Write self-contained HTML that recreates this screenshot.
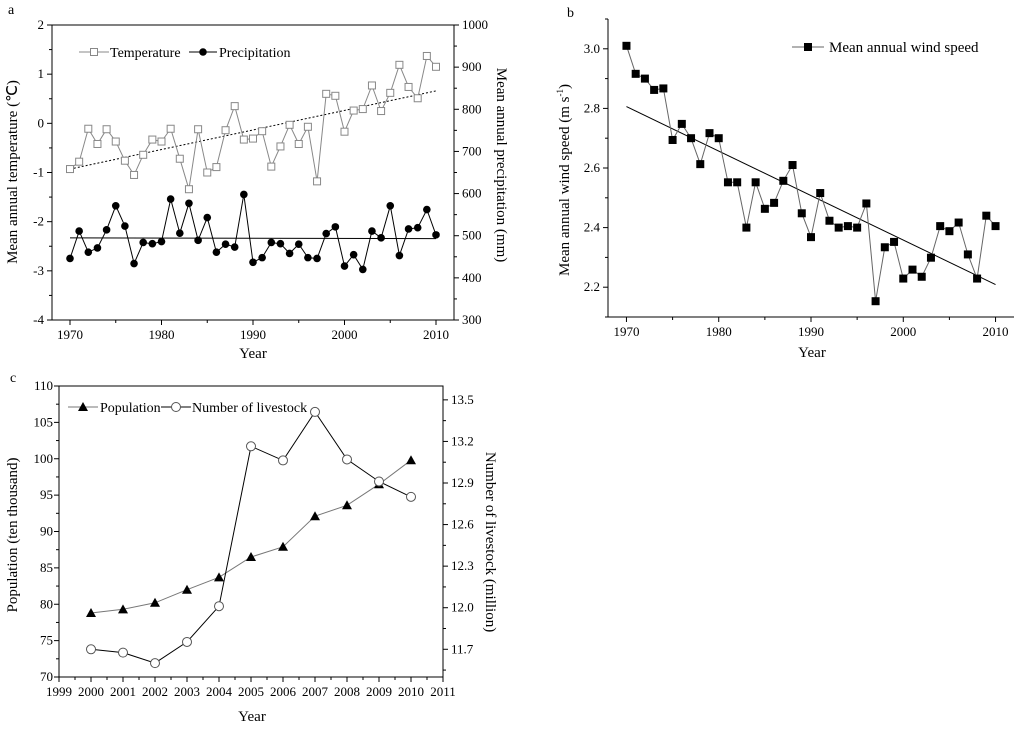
<!DOCTYPE html>
<html><head><meta charset="utf-8"><style>
html,body{margin:0;padding:0;background:#fff}
svg{display:block;font-family:"Liberation Serif",serif}
</style></head><body>
<svg id="svg" width="1024" height="731" viewBox="0 0 1024 731"></svg>
<script>
// Panel a data
const yearsA = [1970,1971,1972,1973,1974,1975,1976,1977,1978,1979,1980,1981,1982,1983,1984,1985,1986,1987,1988,1989,1990,1991,1992,1993,1994,1995,1996,1997,1998,1999,2000,2001,2002,2003,2004,2005,2006,2007,2008,2009,2010];
const tempValues = [-0.93,-0.78,-0.11,-0.42,-0.12,-0.37,-0.76,-1.05,-0.64,-0.33,-0.37,-0.11,-0.72,-1.34,-0.12,-1.0,-0.89,-0.14,0.35,-0.33,-0.31,-0.16,-0.88,-0.47,-0.03,-0.42,-0.07,-1.18,0.60,0.56,-0.17,0.26,0.29,0.77,0.25,0.62,1.19,0.74,0.51,1.37,1.15];
const precipValues = [446,511,461,471,514,571,523,434,484,481,486,587,506,577,489,543,461,480,473,598,437,448,484,481,458,480,448,446,505,521,428,455,420,511,495,571,453,516,519,562,502];
const tempTrend = [-0.93,0.66];
const precipTrend = [495,493];
const tempTicks = [-4,-3,-2,-1,0,1,2];
const precipTicks = [300,400,500,600,700,800,900,1000];
const yearTicksA = [1970,1980,1990,2000,2010];
// Panel b data
const windValues = [3.01,2.916,2.90,2.862,2.867,2.694,2.748,2.70,2.613,2.717,2.70,2.552,2.552,2.40,2.552,2.463,2.483,2.557,2.61,2.448,2.368,2.516,2.423,2.40,2.405,2.40,2.481,2.153,2.334,2.352,2.229,2.259,2.235,2.299,2.405,2.388,2.417,2.31,2.229,2.44,2.405];
const windTrend = [2.806,2.209];
const windTicks = [2.2,2.4,2.6,2.8,3.0];
// Panel c data
const yearsC = [2000,2001,2002,2003,2004,2005,2006,2007,2008,2009,2010];
const popValues = [78.8,79.3,80.2,82.0,83.7,86.5,87.9,92.1,93.6,96.5,99.8];
const livestockValues = [11.70,11.676,11.60,11.753,12.011,13.165,13.063,13.413,13.07,12.911,12.80];
const popTicks = [70,75,80,85,90,95,100,105,110];
const livestockTicks = [11.7,12.0,12.3,12.6,12.9,13.2,13.5];
const yearTicksC = [1999,2000,2001,2002,2003,2004,2005,2006,2007,2008,2009,2010,2011];

const NS="http://www.w3.org/2000/svg";
const svg=document.getElementById('svg');
function el(tag,attrs,parent,text){const e=document.createElementNS(NS,tag);for(const k in attrs)e.setAttribute(k,attrs[k]);if(text!==undefined)e.textContent=text;(parent||svg).appendChild(e);return e;}
function lin(d0,d1,r0,r1){return v=>r0+(v-d0)*(r1-r0)/(d1-d0);}
function poly(xs,ys,sx,sy,stroke,g,dash){const p=xs.map((x,i)=>sx(x).toFixed(1)+','+sy(ys[i]).toFixed(1)).join(' ');const a={points:p,fill:'none',stroke:stroke,'stroke-width':1};if(dash)a['stroke-dasharray']=dash;return el('polyline',a,g);}

// ===== Panel a =====
const gA=el('g',{});


const axA={l:52,r:454,t:25,b:320};
const xA=lin(1970,2010,70,436), yT=lin(-4,2,320,25), yP=lin(300,1000,320,25);
el('rect',{x:axA.l,y:axA.t,width:axA.r-axA.l,height:axA.b-axA.t,fill:'none',stroke:'#000','stroke-width':1},gA);
el('text',{x:8,y:14,'font-size':14},gA,'a');
tempTicks.forEach(v=>{const y=yT(v);el('line',{x1:axA.l-5,x2:axA.l,y1:y,y2:y,stroke:'#000'},gA);const t=el('text',{x:axA.l-8,y:y+4,'font-size':13,'text-anchor':'end'},gA,String(v));
 if(v<2){const ym=yT(v+0.5);el('line',{x1:axA.l-3,x2:axA.l,y1:ym,y2:ym,stroke:'#000'},gA);}});
precipTicks.forEach(v=>{const y=yP(v);el('line',{x1:axA.r,x2:axA.r+5,y1:y,y2:y,stroke:'#000'},gA);const t=el('text',{x:axA.r+8,y:y+4,'font-size':13},gA,String(v));
 if(v<1000){const ym=yP(v+50);el('line',{x1:axA.r,x2:axA.r+3,y1:ym,y2:ym,stroke:'#000'},gA);}});
yearTicksA.forEach(v=>{const x=xA(v);el('line',{x1:x,x2:x,y1:axA.b,y2:axA.b+5,stroke:'#000'},gA);const t=el('text',{x:x,y:axA.b+19,'font-size':13,'text-anchor':'middle'},gA,String(v));
 if(v<2010){const xm=xA(v+5);el('line',{x1:xm,x2:xm,y1:axA.b,y2:axA.b+3,stroke:'#000'},gA);}});
let t;
t=el('text',{x:253,y:358,'font-size':15,'text-anchor':'middle'},gA,'Year');
t=el('text',{x:0,y:0,'font-size':15,'text-anchor':'middle',transform:'translate(17,172) rotate(-90)'},gA,'Mean annual temperature (℃)');
t=el('text',{x:0,y:0,'font-size':15,'text-anchor':'middle',transform:'translate(497,165) rotate(90)'},gA,'Mean annual precipitation (mm)');
el('line',{x1:xA(1970),x2:xA(2010),y1:yT(tempTrend[0]),y2:yT(tempTrend[1]),stroke:'#000','stroke-dasharray':'2,2'},gA);
el('line',{x1:xA(1970),x2:xA(2010),y1:yP(precipTrend[0]),y2:yP(precipTrend[1]),stroke:'#000'},gA);
poly(yearsA,tempValues,xA,yT,'#888',gA);
poly(yearsA,precipValues,xA,yP,'#000',gA);
yearsA.forEach((yr,i)=>{const r=el('rect',{x:xA(yr)-3.5,y:yT(tempValues[i])-3.5,width:7,height:7,fill:'#fff',stroke:'#888'},gA);
 const c=el('circle',{cx:xA(yr),cy:yP(precipValues[i]),r:3.8,fill:'#000'},gA);});
el('line',{x1:79,x2:109,y1:52,y2:52,stroke:'#888'},gA);el('rect',{x:90.5,y:48.5,width:7,height:7,fill:'#fff',stroke:'#888'},gA);
t=el('text',{x:110,y:57,'font-size':14},gA,'Temperature');
el('line',{x1:189,x2:217,y1:52,y2:52,stroke:'#000'},gA);el('circle',{cx:203,cy:52,r:3.8,fill:'#000'},gA);
t=el('text',{x:219,y:57,'font-size':14},gA,'Precipitation');

// ===== Panel b =====
const gB=el('g',{});


const axB={l:608,r:1014,t:19,b:317};
const xB=lin(1968,2012,608,1014), yW=lin(2.1,3.1,317,19);
el('line',{x1:axB.l,x2:axB.l,y1:axB.t,y2:axB.b,stroke:'#000'},gB);
el('line',{x1:axB.l,x2:axB.r,y1:axB.b,y2:axB.b,stroke:'#000'},gB);
el('text',{x:567,y:17,'font-size':14},gB,'b');
windTicks.forEach(v=>{const y=yW(v);el('line',{x1:axB.l-5,x2:axB.l,y1:y,y2:y,stroke:'#000'},gB);t=el('text',{x:axB.l-8,y:y+4,'font-size':13,'text-anchor':'end'},gB,v.toFixed(1));});
[2.1,2.3,2.5,2.7,2.9,3.1].forEach(v=>{const y=yW(v);el('line',{x1:axB.l-3,x2:axB.l,y1:y,y2:y,stroke:'#000'},gB);});
yearTicksA.forEach(v=>{const x=xB(v);el('line',{x1:x,x2:x,y1:axB.b,y2:axB.b+5,stroke:'#000'},gB);t=el('text',{x:x,y:axB.b+19,'font-size':13,'text-anchor':'middle'},gB,String(v));
 if(v<2010){const xm=xB(v+5);el('line',{x1:xm,x2:xm,y1:axB.b,y2:axB.b+3,stroke:'#000'},gB);}});
t=el('text',{x:812,y:357,'font-size':15,'text-anchor':'middle'},gB,'Year');
t=el('text',{x:0,y:0,'font-size':15,'text-anchor':'middle',transform:'translate(569,180) rotate(-90)'},gB,'Mean annual wind speed (m s');
el('tspan',{'font-size':9,dy:-6},t,'-1');el('tspan',{dy:6},t,')');
el('line',{x1:xB(1970),x2:xB(2010),y1:yW(windTrend[0]),y2:yW(windTrend[1]),stroke:'#000'},gB);
poly(yearsA,windValues,xB,yW,'#666',gB);
yearsA.forEach((yr,i)=>{const r=el('rect',{x:xB(yr)-4,y:yW(windValues[i])-4,width:8,height:8,fill:'#000'},gB);});
el('line',{x1:792,x2:824,y1:47,y2:47,stroke:'#666'},gB);el('rect',{x:804,y:43,width:8,height:8,fill:'#000'},gB);
t=el('text',{x:829,y:52,'font-size':15},gB,'Mean annual wind speed');

// ===== Panel c =====
const gC=el('g',{});


const axC={l:59,r:443,t:386,b:677};
const xC=lin(1999,2011,59,443), yPop=lin(70,110,677,386), yL=lin(11.5,13.6,677,386);
el('rect',{x:axC.l,y:axC.t,width:axC.r-axC.l,height:axC.b-axC.t,fill:'none',stroke:'#000'},gC);
el('text',{x:10,y:382,'font-size':14},gC,'c');
popTicks.forEach(v=>{const y=yPop(v);el('line',{x1:axC.l-5,x2:axC.l,y1:y,y2:y,stroke:'#000'},gC);t=el('text',{x:axC.l-6,y:y+4,'font-size':13,'text-anchor':'end'},gC,String(v));
 if(v<110){const ym=yPop(v+2.5);el('line',{x1:axC.l-3,x2:axC.l,y1:ym,y2:ym,stroke:'#000'},gC);}});
livestockTicks.forEach(v=>{const y=yL(v);el('line',{x1:axC.r,x2:axC.r+5,y1:y,y2:y,stroke:'#000'},gC);t=el('text',{x:axC.r+8,y:y+4,'font-size':13},gC,v.toFixed(1));});
[11.55,11.85,12.15,12.45,12.75,13.05,13.35].forEach(v=>{const y=yL(v);el('line',{x1:axC.r,x2:axC.r+3,y1:y,y2:y,stroke:'#000'},gC);});
yearTicksC.forEach(v=>{const x=xC(v);el('line',{x1:x,x2:x,y1:axC.b,y2:axC.b+5,stroke:'#000'},gC);t=el('text',{x:x,y:axC.b+19,'font-size':13,'text-anchor':'middle'},gC,String(v));
 if(v<2011){const xm=xC(v+0.5);el('line',{x1:xm,x2:xm,y1:axC.b,y2:axC.b+3,stroke:'#000'},gC);}});
t=el('text',{x:252,y:721,'font-size':15,'text-anchor':'middle'},gC,'Year');
t=el('text',{x:0,y:0,'font-size':15,'text-anchor':'middle',transform:'translate(17,535) rotate(-90)'},gC,'Population (ten thousand)');
t=el('text',{x:0,y:0,'font-size':15,'text-anchor':'middle',transform:'translate(486,542) rotate(90)'},gC,'Number of livestock (million)');
poly(yearsC,popValues,xC,yPop,'#777',gC);
poly(yearsC,livestockValues,xC,yL,'#000',gC);
yearsC.forEach((yr,i)=>{const x=xC(yr),y=yPop(popValues[i]);const p=el('polygon',{points:`${x},${y-5} ${x-5},${y+4} ${x+5},${y+4}`,fill:'#000'},gC);
 const c=el('circle',{cx:x,cy:yL(livestockValues[i]),r:4.5,fill:'#fff',stroke:'#555'},gC);});
el('line',{x1:68,x2:98,y1:407,y2:407,stroke:'#777'},gC);el('polygon',{points:'83,402 78,411 88,411',fill:'#000'},gC);
t=el('text',{x:100,y:412,'font-size':14},gC,'Population');
el('line',{x1:161,x2:191,y1:407,y2:407,stroke:'#000'},gC);el('circle',{cx:176,cy:407,r:4.5,fill:'#fff',stroke:'#555'},gC);
t=el('text',{x:192,y:412,'font-size':14},gC,'Number of livestock');
</script>
</body></html>
